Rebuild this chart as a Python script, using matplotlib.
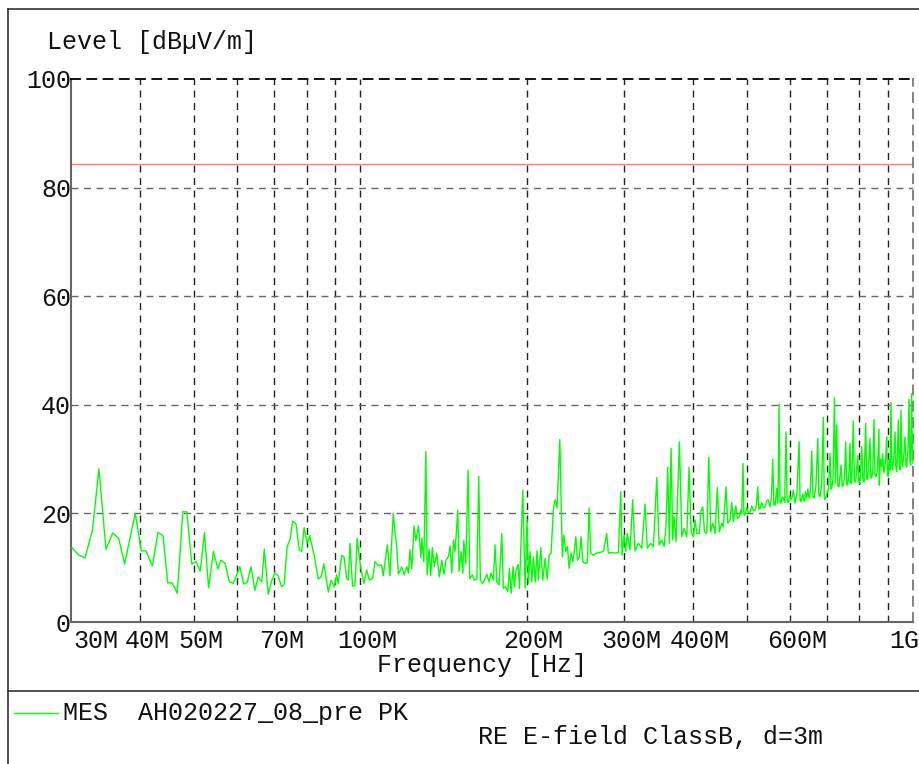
import matplotlib
matplotlib.use("Agg")
import matplotlib.pyplot as plt
import matplotlib.transforms as mtransforms
from matplotlib.lines import Line2D

plt.rcParams["font.family"] = ["Liberation Mono", "DejaVu Sans Mono"]

# peak scan, frequency in MHz, level in dBuV/m (30 - 485 MHz)
freq_lo = [
    30.1, 31.0, 31.8, 32.8, 33.7, 34.7, 35.7, 36.6, 37.5, 39.2,
    40.2, 41.0, 42.1, 43.1, 44.0, 44.9, 45.7, 46.7, 47.8, 48.6,
    49.6, 50.5, 51.4, 52.3, 53.2, 54.3, 55.3, 56.0, 57.0, 58.0,
    59.0, 60.6, 61.6, 62.5, 63.5, 64.5, 65.4, 66.4, 67.1, 68.2,
    69.2, 70.1, 71.1, 72.1, 72.9, 73.8, 74.7, 75.5, 76.6, 77.6,
    78.4, 79.2, 80.2, 81.1, 82.8, 84.0, 85.0, 86.0, 87.6, 88.6,
    89.8, 90.7, 91.3, 92.6, 93.5, 94.6, 95.2, 95.9, 96.9, 97.9,
    98.8, 100.2, 101.6, 102.8, 103.9, 105.4, 106.4, 107.9, 109.4, 110.1,
    112.0, 113.2, 114.8, 116.5, 117.3, 119.0, 120.1, 121.5, 122.3, 123.1,
    124.0, 125.2, 126.1, 127.5, 128.8, 129.3, 130.4, 131.5, 132.2, 133.3,
    134.2, 135.1, 136.2, 137.6, 139.1, 140.5, 141.9, 143.0, 144.4, 145.5,
    146.5, 147.5, 148.5, 150.2, 151.0, 152.3, 153.4, 154.0, 155.3, 156.8,
    157.9, 159.6, 160.9, 162.6, 163.9, 165.0, 166.4, 167.8, 169.5, 171.1,
    172.5, 174.2, 175.4, 176.7, 178.4, 180.4, 181.6, 183.4, 185.0, 186.2,
    187.6, 189.1, 190.1, 191.5, 193.1, 194.2, 196.9, 198.8, 200.4, 201.5,
    202.9, 204.4, 205.8, 207.3, 209.0, 210.1, 212.2, 214.0, 216.1, 217.9,
    219.7, 221.5, 223.6, 225.2, 227.1, 229.7, 232.2, 233.5, 235.5, 237.1,
    238.8, 240.8, 242.5, 243.8, 245.6, 247.2, 249.3, 251.0, 252.8, 255.2,
    257.6, 259.5, 261.3, 264.1, 267.9, 271.6, 275.4, 279.3, 281.2, 285.2,
    289.2, 293.2, 296.1, 297.7, 300.2, 302.3, 304.4, 307.7, 311.2, 314.2,
    318.6, 323.1, 327.6, 330.7, 335.5, 339.2, 344.0, 347.3, 351.2, 354.6,
    357.5, 360.1, 362.5, 365.1, 367.7, 369.7, 372.8, 378.0, 381.8, 385.5,
    389.8, 393.5, 396.9, 400.6, 403.5, 406.4, 410.8, 413.2, 416.7, 419.5,
    423.7, 427.2, 430.8, 434.4, 438.5, 442.7, 446.4, 450.9, 453.9, 459.0,
    462.2, 466.7, 470.1, 473.2, 478.0, 481.2, 485.2,
]
level_lo = [
    13.7, 12.3, 11.8, 16.9, 28.2, 13.4, 16.4, 15.4, 10.7, 20.0,
    13.1, 13.1, 10.3, 16.5, 15.9, 7.2, 7.2, 5.3, 20.3, 20.3,
    10.7, 11.1, 9.4, 16.5, 6.3, 13.0, 9.8, 11.4, 10.8, 7.4,
    7.1, 10.2, 7.0, 7.3, 10.2, 5.8, 8.3, 7.4, 13.4, 5.1,
    7.6, 9.0, 8.5, 6.5, 7.0, 13.9, 15.2, 18.6, 18.0, 13.3,
    13.0, 17.4, 14.5, 15.9, 11.7, 7.9, 8.3, 10.7, 5.5, 7.7,
    6.5, 8.7, 7.1, 12.3, 12.0, 8.0, 7.7, 14.5, 6.6, 6.8,
    15.4, 10.2, 7.1, 9.6, 7.7, 8.0, 11.1, 10.4, 10.5, 8.5,
    14.2, 8.5, 20.0, 13.6, 8.8, 10.1, 8.7, 10.2, 9.0, 13.3,
    9.8, 17.7, 15.0, 17.7, 11.9, 15.5, 11.1, 31.4, 8.7, 13.4,
    8.5, 13.7, 10.2, 12.7, 8.3, 11.4, 8.8, 11.4, 12.0, 14.0,
    9.0, 15.1, 13.0, 20.6, 9.3, 13.0, 9.0, 15.0, 10.8, 27.9,
    8.0, 8.7, 7.7, 7.9, 26.8, 7.7, 7.1, 7.7, 8.8, 7.4,
    9.0, 7.7, 14.2, 7.4, 6.8, 16.3, 6.2, 6.5, 5.6, 9.9,
    5.3, 10.2, 6.5, 9.6, 10.6, 6.2, 24.3, 6.2, 18.9, 7.1,
    13.0, 7.4, 12.0, 7.4, 13.1, 7.7, 13.7, 7.7, 11.7, 7.9,
    12.3, 12.7, 20.6, 22.5, 21.1, 33.6, 12.0, 16.0, 13.0, 13.9,
    9.9, 12.7, 11.1, 12.7, 15.7, 11.4, 12.0, 15.7, 11.1, 10.8,
    10.9, 21.0, 12.7, 12.3, 12.7, 12.8, 13.0, 16.3, 12.7, 12.8,
    12.7, 12.8, 24.0, 12.3, 16.0, 13.0, 16.3, 13.3, 22.5, 13.1,
    14.5, 13.6, 21.7, 13.6, 14.5, 13.9, 26.6, 14.2, 15.1, 13.9,
    17.6, 28.5, 14.5, 32.0, 15.1, 19.4, 14.8, 33.2, 15.7, 17.2,
    15.7, 28.5, 16.6, 15.7, 18.8, 16.3, 16.3, 20.3, 21.2, 16.6,
    16.3, 30.3, 16.6, 18.2, 16.3, 24.8, 16.6, 18.2, 17.6, 24.9,
    18.2, 18.8, 22.0, 18.5, 21.4, 19.1, 19.4,
]

# 485 MHz - 1 GHz, denser harmonic comb
freq_hi = [
    488.0, 490.1, 492.7, 494.5, 496.8, 500.5, 503.8, 507.3, 511.0, 514.5,
    518.0, 521.0, 523.9, 526.0, 528.9, 532.5, 536.4, 540.1, 543.5, 547.5,
    551.4, 554.5, 557.6, 560.2, 563.0, 566.9, 569.8, 572.4, 574.8, 577.1,
    580.0, 582.7, 586.0, 589.3, 592.0, 595.0, 598.5, 601.7, 604.6, 607.5,
    611.8, 616.5, 622.2, 624.8, 627.4, 631.5, 636.0, 639.0, 642.5, 645.5,
    648.6, 652.0, 656.0, 659.5, 663.1, 667.5, 672.6, 675.8, 679.0, 683.6,
    688.4, 691.0, 693.4, 698.3, 703.0, 708.0, 710.5, 713.0, 716.8, 720.8,
    724.0, 727.8, 731.2, 734.9, 741.1, 744.5, 748.2, 752.0, 755.6, 758.8,
    761.9, 765.5, 769.2, 771.9, 774.7, 779.8, 783.5, 787.7, 794.3, 798.0,
    802.0, 807.7, 811.5, 815.4, 821.2, 824.5, 828.1, 836.0, 839.0, 841.9,
    846.0, 850.0, 853.5, 857.1, 862.0, 867.9, 869.0, 873.0, 877.6, 881.0,
    885.5, 889.8, 893.0, 896.1, 899.0, 902.1, 905.5, 909.0, 912.4, 915.5,
    919.0, 923.5, 927.9, 931.0, 934.4, 937.5, 940.7, 944.0, 947.4, 951.3,
    954.5, 957.9, 962.5, 967.2, 971.0, 974.1, 979.0, 983.5, 987.0, 990.4,
    994.5, 997.5, 1000.0,
]
level_hi = [
    20.6, 20.0, 29.2, 19.8, 19.7, 21.0, 20.1, 20.3, 21.4, 20.5,
    20.6, 21.6, 24.9, 20.8, 20.9, 22.0, 21.0, 21.2, 22.3, 22.5,
    21.2, 22.9, 30.0, 21.6, 21.5, 24.6, 21.8, 40.1, 22.0, 21.9,
    23.0, 22.8, 22.0, 35.0, 22.4, 22.0, 23.3, 22.5, 23.0, 24.3,
    21.9, 23.5, 33.2, 22.4, 22.2, 23.6, 22.2, 24.0, 22.8, 24.5,
    22.8, 24.2, 31.5, 23.0, 22.8, 25.0, 33.8, 23.3, 23.1, 25.5,
    37.7, 23.0, 22.5, 23.7, 24.3, 31.1, 24.5, 24.6, 26.5, 41.3,
    25.5, 36.3, 25.0, 24.9, 28.9, 25.0, 25.2, 27.0, 33.2, 25.4,
    25.2, 27.2, 32.9, 25.6, 25.5, 37.0, 26.0, 25.8, 30.6, 25.9,
    25.5, 32.3, 26.5, 25.8, 36.6, 26.4, 26.2, 33.8, 26.6, 26.5,
    28.0, 37.3, 27.0, 26.8, 27.8, 35.5, 25.2, 30.0, 28.6, 31.0,
    27.5, 28.6, 30.5, 34.1, 27.5, 26.8, 30.0, 28.0, 40.4, 29.0,
    28.0, 31.0, 35.0, 28.5, 27.7, 31.5, 37.2, 29.0, 28.0, 39.0,
    29.5, 28.6, 31.0, 34.1, 29.0, 28.6, 31.5, 41.0, 29.5, 28.9,
    42.1, 30.0, 29.2,
]
limit_dbuv = 84.4

grid_mhz = [40, 50, 60, 70, 80, 90, 100, 200, 300, 400, 500, 600, 700, 800, 900]
tick_mhz = [30, 40, 50, 70, 100, 200, 300, 400, 600, 1000]
tick_text = ["30M", "40M", "50M", "70M", "100M", "200M", "300M", "400M", "600M", "1G"]
level_ticks = [0, 20, 40, 60, 80, 100]

W, H = 920, 764
FS = 18
fig = plt.figure(figsize=(W / 100, H / 100), dpi=100)
ax = fig.add_axes([71 / W, 142 / H, 842 / W, 543 / H])

ax.set_xscale("log")
ax.set_xlim(30, 1000)
ax.set_ylim(0, 100)

dash = (0, (5, 4))
for f in grid_mhz:
    ax.axvline(f, color="#222222", lw=1.0, ls=dash, zorder=1)
for lv in level_ticks[1:-1]:
    ax.axhline(lv, color="#666666", lw=1.0, ls=dash, zorder=1)

ax.axhline(limit_dbuv, color="#ff8080", lw=1.0, zorder=2)
ax.plot(freq_lo + freq_hi, level_lo + level_hi, color="#00ff00", lw=1.0, zorder=3)

ax.xaxis.set_minor_locator(matplotlib.ticker.NullLocator())
ax.set_xticks(tick_mhz)
ax.set_xticklabels(tick_text)
ax.set_yticks(level_ticks)
ax.tick_params(axis="both", length=0, labelsize=FS, colors="#111111")
ax.tick_params(axis="x", pad=5)
ax.tick_params(axis="y", pad=0)

# labels sit a little right of their grid line; first and last kept inside the frame
labels = ax.get_xticklabels()
for lab in labels[1:-1]:
    lab.set_transform(lab.get_transform() + mtransforms.ScaledTranslation(7 / 100, 0, fig.dpi_scale_trans))
labels[0].set_horizontalalignment("left")
labels[0].set_transform(labels[0].get_transform() + mtransforms.ScaledTranslation(2 / 100, 0, fig.dpi_scale_trans))
labels[-1].set_horizontalalignment("right")
labels[-1].set_transform(labels[-1].get_transform() + mtransforms.ScaledTranslation(6 / 100, 0, fig.dpi_scale_trans))

for side in ("left", "bottom"):
    ax.spines[side].set_color("#666666")
    ax.spines[side].set_linewidth(1.5)
ax.spines["top"].set_color("black")
ax.spines["top"].set_linestyle(dash)
ax.spines["top"].set_linewidth(1.3)
ax.spines["right"].set_color("#777777")
ax.spines["right"].set_linestyle(dash)
ax.spines["right"].set_linewidth(1.3)

# page frame and footer separator
frame = dict(transform=fig.transFigure, color="#333333", lw=1.2)
fig.add_artist(Line2D([8 / W, 8 / W], [0, 1 - 9 / H], **frame))
fig.add_artist(Line2D([8 / W, 1], [1 - 9 / H, 1 - 9 / H], **frame))
fig.add_artist(Line2D([8 / W, 1], [1 - 691 / H, 1 - 691 / H], **frame))

fig.text(47 / W, 1 - 42 / H, "Level [dBµV/m]", ha="left", va="center", fontsize=FS, color="#111111")
fig.text(482 / W, 1 - 665 / H, "Frequency [Hz]", ha="center", va="center", fontsize=FS, color="#111111")

fig.add_artist(Line2D([14 / W, 58 / W], [1 - 713 / H, 1 - 713 / H],
                      transform=fig.transFigure, color="#00ff00", lw=1.0))
fig.text(63 / W, 1 - 713 / H, "MES  AH020227_08_pre PK", ha="left", va="center", fontsize=FS, color="#111111")
fig.text(478 / W, 1 - 737 / H, "RE E-field ClassB, d=3m", ha="left", va="center", fontsize=FS, color="#111111")

fig.savefig("out.png", dpi=100)
